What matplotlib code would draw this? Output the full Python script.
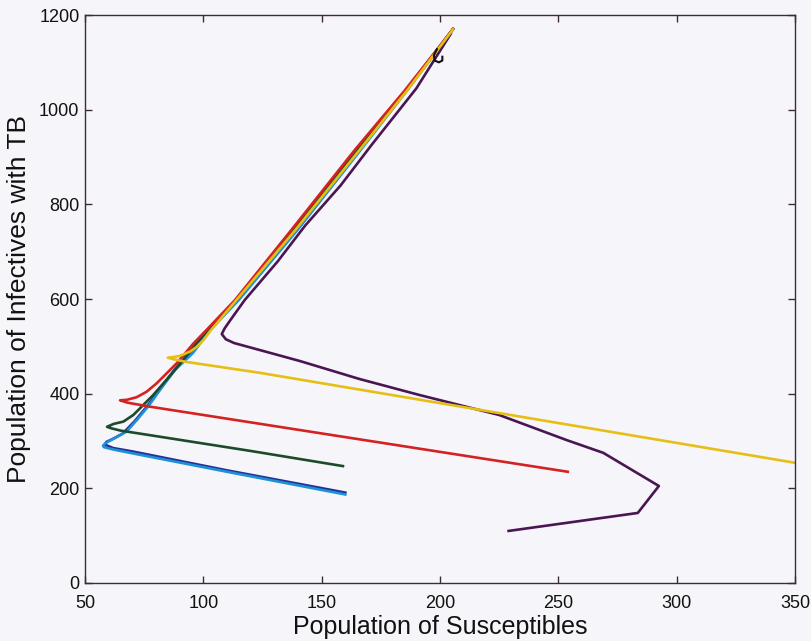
import matplotlib
matplotlib.use('Agg')
import matplotlib.pyplot as plt

# phase-plane trajectories: susceptibles (S) vs infectives (I)
purple_s = [229, 283.6, 292.5, 269, 253.5, 225, 191.5, 166, 140.8, 124, 113, 109.5, 107.8,
            109, 111.5, 117.5, 131.5, 143, 158, 171, 190, 204.5]
purple_i = [110, 148, 205, 275, 302, 355, 397, 431, 469, 492, 507, 515, 526,
            538, 556, 598, 680, 755, 840, 925, 1045, 1160]

yellow_s = [350, 250, 124, 93, 88, 85, 88, 90.1, 94.4, 97.2, 100, 103, 114, 138.9, 166, 186, 205.5]
yellow_i = [254, 338, 444, 467, 472, 476, 478, 480, 489, 499, 513, 533, 598, 746, 915, 1040, 1170]

red_s = [254, 150, 77.5, 68, 64.8, 67.6, 71.8, 76, 80.3, 84.5, 88.7, 95.8, 101.4, 113.4,
         137.2, 164, 185, 205.5]
red_i = [235, 316, 372.5, 381, 386, 387, 392.5, 404, 422, 443, 464, 506, 535, 598,
         746, 915, 1040, 1170]

green_s = [159, 120, 81.7, 65, 61, 59.3, 62, 66.2, 70.4, 74.6, 78.8, 88, 96, 102, 114,
           138, 165, 185.6, 205.5]
green_i = [247, 279, 309, 322, 327, 330, 336, 341, 355, 376, 397, 450, 500, 535, 598,
           746, 915, 1040, 1171]

navy_s = [160, 110, 70, 62, 58.5, 59, 62, 66, 71, 76, 81, 88, 95, 102.5, 114.5,
          139.5, 166, 185.8, 205.5]
navy_i = [191, 238, 278, 285, 292, 298, 305, 316, 342, 372, 405, 452, 490, 535, 598,
          746, 915, 1040, 1170]

blue_s = [160, 110, 70, 62, 58, 57.6, 58.5, 61, 64, 67.6, 72, 77, 81.7, 88, 95.6, 103,
          115, 139.8, 166.5, 186, 205.5]
blue_i = [187, 235, 274, 282, 287, 290, 295, 302, 310, 320, 345, 375, 408, 450, 486, 535,
          598, 746, 915, 1040, 1170]

# small loop near the upper end
hook_s = [198.7, 197.4, 197.8, 199.5, 201, 201]
hook_i = [1128, 1115, 1104, 1100, 1104, 1112]

paper = '#f6f6fa'
frame = '#3e2a3a'

plt.rcParams['font.family'] = ['Liberation Sans', 'DejaVu Sans']

fig = plt.figure(figsize=(8.12, 6.41), dpi=100, facecolor=paper)
ax = fig.add_axes([0.1047, 0.0905, 0.8743, 0.886], facecolor=paper)

lw = 1.9
ax.plot(purple_s, purple_i, color='#4a1652', lw=lw)
ax.plot(navy_s, navy_i, color='#23309a', lw=lw)
ax.plot(blue_s, blue_i, color='#1e90d6', lw=lw)
ax.plot(green_s, green_i, color='#1d4a2a', lw=lw)
ax.plot(red_s, red_i, color='#d42222', lw=lw)
ax.plot(yellow_s, yellow_i, color='#e6be14', lw=lw)
ax.plot(hook_s, hook_i, color='#111111', lw=1.5)

ax.set_xlim(50, 350)
ax.set_ylim(0, 1200)
ax.set_xticks(range(50, 351, 50))
ax.set_yticks(range(0, 1201, 200))

for s in ax.spines.values():
    s.set_color(frame)
    s.set_linewidth(1.0)
ax.tick_params(direction='in', length=5, width=1, color=frame, top=True, right=True,
               labelsize=13, labelcolor='#111111')
ax.tick_params(axis='x', pad=9)
ax.tick_params(axis='y', pad=4)

ax.set_xlabel('Population of Susceptibles', fontsize=18, color='#111111', labelpad=2)
ax.set_ylabel('Population of Infectives with TB', fontsize=19, color='#111111', labelpad=6)

fig.savefig('out.png', dpi=100, facecolor=paper)
